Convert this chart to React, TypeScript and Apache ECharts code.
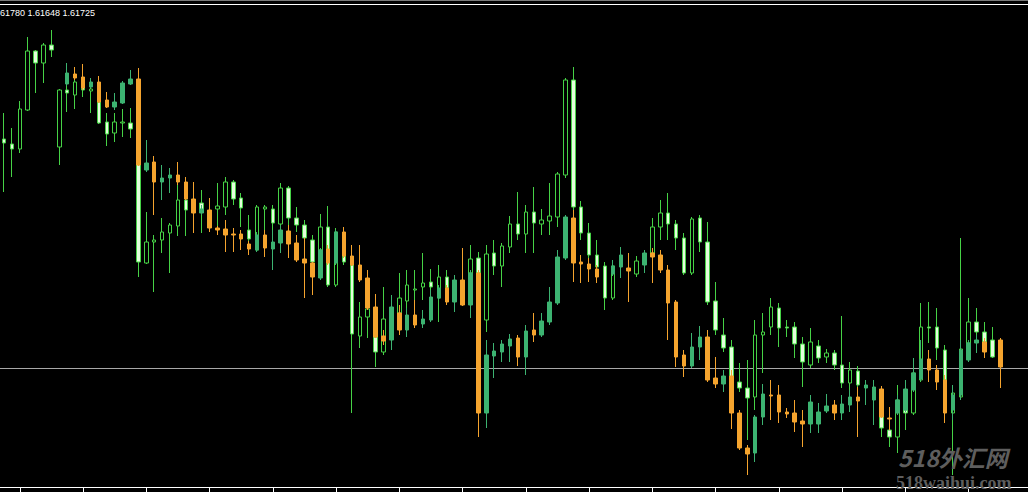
import React, { useEffect, useRef } from "react";
import * as echarts from "echarts";

// ---- Data (prices) ----
const headerText = "61780 1.61648 1.61725";
const slotCount = 130;
const categories = Array.from({ length: slotCount }, (_, i) => String(i));
const priceLine = 1.62132;

// Main series (outlined candles)
const aOpen = [
  1.62361, 1.62356, 1.62351, 1.6239, 1.62449, 1.62437, 1.62455, 1.62353, 1.6241, 1.62405,
  1.62414, 1.62409, 1.62398, 1.62378, 1.62367, 1.62377, 1.62377, 1.6237, 1.62237, 1.62258,
  1.6226, 1.62267, 1.62274, 1.623, null, 1.62297, null, 1.62291, 1.62293, 1.62318,
  1.62302, 1.6227, 1.6225, 1.62291, 1.62291, 1.62276, 1.62312, 1.62282, 1.62275, 1.6226,
  1.6225, 1.62273, 1.62215, 1.62244, 1.62235, 1.62164, 1.62183, 1.62163, 1.62148, null,
  1.62187, 1.62199, 1.6221, 1.62213, 1.62218, 1.62202, 1.62223, null, null, 1.62227,
  1.62242, 1.6218, 1.62247, 1.62234, 1.62253, 1.62276, 1.62266, 1.62288, 1.62276, 1.62279,
  1.62283, 1.62325, 1.6242, 1.62293, 1.62267, 1.62245, 1.62234, 1.62202, null, null,
  1.62226, null, 1.62247, 1.62273, 1.62287, 1.62276, 1.62262, 1.62227, 1.62282, 1.62258,
  1.62199, 1.62165, 1.62153, 1.62118, 1.62112, 1.62103, 1.62165, 1.62173, 1.62192, 1.62173,
  1.62173, 1.62156, 1.62135, 1.62154, 1.62143, 1.62147, 1.62135, 1.62117, 1.62129, null,
  null, 1.621, 1.6207, 1.62063, 1.6209, 1.62087, 1.6212, 1.62173, 1.62173, 1.6215,
  1.62087, 1.62103, 1.62157, 1.62178, 1.62168, 1.6216, null,
];
const aClose = [
  1.62357, 1.62351, 1.62391, 1.62449, 1.62437, 1.62455, 1.6245, 1.6241, 1.62407, 1.62418,
  1.6241, 1.62411, 1.62377, 1.62366, 1.62378, 1.62378, 1.62371, 1.62238, 1.62258, 1.6226,
  1.62268, 1.62275, 1.623, 1.6229, null, 1.6229, null, 1.62294, 1.62318, 1.62301,
  1.62292, 1.62261, 1.62293, 1.62293, 1.62277, 1.62312, 1.62282, 1.62275, 1.62262, 1.62238,
  1.62273, 1.62215, 1.62268, 1.62238, 1.62166, 1.62183, 1.62191, 1.62148, 1.62181, null,
  1.62202, 1.62215, 1.62211, 1.62217, 1.62213, 1.62223, 1.62212, null, null, 1.62241,
  1.62227, 1.62246, 1.62234, 1.62254, 1.62276, 1.62266, 1.62288, 1.62277, 1.6228, 1.62284,
  1.62326, 1.6242, 1.62293, 1.62267, 1.62245, 1.62233, 1.62202, 1.62234, null, null,
  1.62239, null, 1.62273, 1.62287, 1.62276, 1.62262, 1.62227, 1.62281, 1.62258, 1.62198,
  1.6217, 1.62152, 1.62123, 1.62112, 1.62102, 1.62165, 1.62168, 1.62193, 1.62172, 1.62172,
  1.62156, 1.62138, 1.62158, 1.62142, 1.62147, 1.62135, 1.62117, 1.6213, 1.62115, null,
  null, 1.62072, 1.62063, 1.621, 1.62087, 1.62127, 1.62173, 1.62172, 1.62152, 1.6212,
  1.62107, 1.62151, 1.62178, 1.62168, 1.62158, 1.62143, null,
];
const aHigh = [
  1.62387, 1.62372, 1.62399, 1.62463, 1.6245, 1.62457, 1.6247, 1.62411, 1.62415, 1.62422,
  1.62415, 1.62413, 1.62399, 1.62387, 1.62387, 1.62391, 1.62392, 1.62372, 1.62288, 1.62265,
  1.62282, 1.62277, 1.62315, 1.62301, null, 1.6231, null, 1.62317, 1.62323, 1.6232,
  1.62307, 1.62285, 1.62295, 1.62295, 1.62295, 1.62317, 1.62314, 1.62293, 1.6228, 1.62265,
  1.62286, 1.62294, 1.62272, 1.6225, 1.6225, 1.62198, 1.622, 1.6217, 1.62213, null,
  1.62227, 1.6223, 1.6223, 1.62247, 1.62231, 1.62235, 1.6223, null, null, 1.62255,
  1.62248, 1.62255, 1.6226, 1.62257, 1.62284, 1.62308, 1.62295, 1.62313, 1.62291, 1.62317,
  1.62328, 1.62422, 1.62433, 1.62299, 1.62277, 1.6226, 1.62238, 1.62238, null, null,
  1.62244, null, 1.62282, 1.623, 1.62307, 1.6228, 1.62267, 1.62283, 1.62285, 1.62278,
  1.62218, 1.62182, 1.6216, 1.62137, 1.6214, 1.6218, 1.62187, 1.62202, 1.62197, 1.6218,
  1.62178, 1.62163, 1.62172, 1.6216, 1.62151, 1.6215, 1.62184, 1.62138, 1.62134, null,
  null, 1.6211, 1.62083, 1.62115, 1.621, 1.62142, 1.62197, 1.62198, 1.62192, 1.62155,
  1.62115, 1.62262, 1.62202, 1.62192, 1.62178, 1.62173, null,
];
const aLow = [
  1.62308, 1.62323, 1.62347, 1.62389, 1.62407, 1.62417, 1.62443, 1.62335, 1.62388, 1.62391,
  1.62403, 1.62387, 1.62376, 1.62354, 1.62358, 1.62363, 1.62362, 1.62223, 1.62236, 1.62208,
  1.62247, 1.62227, 1.62264, 1.62264, null, 1.62267, null, 1.62268, 1.62285, 1.62295,
  1.62273, 1.62259, 1.62248, 1.62265, 1.6227, 1.62272, 1.62272, 1.62268, 1.62242, 1.62237,
  1.62248, 1.62213, 1.62213, 1.62235, 1.62087, 1.62152, 1.62162, 1.62133, 1.62145, null,
  1.62185, 1.62185, 1.6219, 1.622, 1.62205, 1.62178, 1.6221, null, null, 1.62225,
  1.62226, 1.62168, 1.62225, 1.62213, 1.62247, 1.6226, 1.62247, 1.62247, 1.62265, 1.62265,
  1.62273, 1.62322, 1.6229, 1.6226, 1.62242, 1.62232, 1.6219, 1.622, null, null,
  1.62223, null, 1.6224, 1.6226, 1.6226, 1.6225, 1.62225, 1.62225, 1.62248, 1.62195,
  1.62165, 1.62148, 1.6212, 1.62108, 1.6206, 1.6209, 1.62127, 1.62165, 1.62153, 1.62163,
  1.62142, 1.62113, 1.62132, 1.62137, 1.62137, 1.6213, 1.62112, 1.6211, 1.62112, null,
  null, 1.62063, 1.62053, 1.62047, 1.6207, 1.62085, 1.62118, 1.62157, 1.6214, 1.62115,
  1.62025, 1.621, 1.62155, 1.62162, 1.62156, 1.62142, null,
];

// Overlay series (filled candles)
const bOpen = [
  null, null, null, null, null, null, null, null, 1.62416, 1.62426,
  1.62423, 1.62413, 1.62418, 1.624, 1.62393, 1.62397, 1.62416, 1.62421, 1.6233, 1.62338,
  1.62318, 1.62322, 1.62325, 1.62318, 1.62301, 1.62287, 1.6229, 1.62272, 1.62271, 1.62266,
  1.62266, 1.62256, 1.6225, 1.62265, 1.62251, 1.62257, 1.62269, 1.62257, 1.62241, 1.62237,
  1.62222, 1.62251, 1.62237, 1.62268, 1.62244, 1.62235, 1.62222, 1.62193, 1.62164, 1.6216,
  1.62187, 1.6217, 1.62185, 1.62176, 1.6218, 1.62202, 1.62212, 1.62198, 1.6222, 1.62195,
  1.62227, 1.62087, 1.62144, 1.62148, 1.62154, 1.62162, 1.62143, 1.6217, 1.62165, 1.62178,
  1.62197, 1.62242, 1.62282, 1.62238, 1.62236, 1.62231, null, 1.62226, 1.62233, 1.62232,
  null, 1.62235, 1.62247, 1.62245, 1.6223, 1.62198, 1.62145, 1.62134, 1.62153, 1.62163,
  1.62122, 1.62116, 1.62124, 1.62087, 1.62052, 1.62047, 1.62083, 1.62105, 1.62105, 1.62088,
  1.62087, 1.62079, 1.62076, 1.62076, 1.62089, 1.62095, 1.62087, 1.62095, 1.62103, 1.62112,
  1.621, 1.62111, 1.62082, 1.62087, 1.6209, 1.6211, 1.62121, 1.62141, 1.6213, 1.6212,
  1.6209, 1.62105, 1.6214, 1.62157, 1.62158, null, 1.6216,
];
const bClose = [
  null, null, null, null, null, null, null, null, 1.62427, 1.62422,
  1.62412, 1.62418, 1.62398, 1.62393, 1.62398, 1.62417, 1.62421, 1.62335, 1.62337, 1.62318,
  1.62322, 1.62325, 1.62318, 1.62301, 1.62287, 1.62291, 1.62272, 1.6227, 1.62265, 1.62265,
  1.62261, 1.62251, 1.62265, 1.62252, 1.62258, 1.6227, 1.62256, 1.6224, 1.62237, 1.62223,
  1.6225, 1.62237, 1.62268, 1.62244, 1.62235, 1.6222, 1.62192, 1.62163, 1.62159, 1.62193,
  1.6217, 1.62185, 1.62175, 1.62181, 1.62203, 1.62212, 1.62198, 1.6222, 1.62195, 1.62227,
  1.62087, 1.62145, 1.62149, 1.62156, 1.62161, 1.62143, 1.62169, 1.62165, 1.62179, 1.62198,
  1.62243, 1.62283, 1.62237, 1.62236, 1.62231, 1.62223, null, 1.62234, 1.62245, 1.62229,
  null, 1.62247, 1.62243, 1.6223, 1.62197, 1.62143, 1.62134, 1.62153, 1.62163, 1.6212,
  1.62116, 1.62124, 1.62087, 1.62052, 1.62046, 1.62083, 1.62106, 1.62104, 1.62088, 1.62086,
  1.62078, 1.62076, 1.62098, 1.62088, 1.62094, 1.62087, 1.62096, 1.62103, 1.62099, 1.62115,
  1.62113, 1.62083, 1.62081, 1.621, 1.62111, 1.62127, 1.62141, 1.6213, 1.62118, 1.62087,
  1.62105, 1.6215, 1.62157, 1.6216, 1.62148, null, 1.62133,
];
const bHigh = [
  null, null, null, null, null, null, null, null, 1.62437, 1.62433,
  1.62436, 1.62422, 1.62424, 1.62408, 1.62407, 1.62419, 1.6243, 1.62432, 1.6236, 1.62344,
  1.62335, 1.62332, 1.62338, 1.62323, 1.62318, 1.62295, 1.62302, 1.62274, 1.6228, 1.62272,
  1.6227, 1.62259, 1.62268, 1.6227, 1.6227, 1.62275, 1.62275, 1.62265, 1.62262, 1.62238,
  1.62252, 1.62255, 1.6227, 1.62273, 1.62255, 1.62255, 1.6223, 1.62206, 1.6217, 1.62205,
  1.62195, 1.62192, 1.622, 1.6219, 1.6221, 1.62215, 1.62215, 1.62225, 1.62252, 1.6223,
  1.6223, 1.6216, 1.62157, 1.6216, 1.62166, 1.62165, 1.62175, 1.62187, 1.62187, 1.62213,
  1.6225, 1.62285, 1.6229, 1.62245, 1.62242, 1.62235, null, 1.6224, 1.62253, 1.62247,
  null, 1.6225, 1.62252, 1.6225, 1.62235, 1.622, 1.6215, 1.62167, 1.62174, 1.6217,
  1.62143, 1.6213, 1.6213, 1.6209, 1.62055, 1.62085, 1.62116, 1.6212, 1.62115, 1.62092,
  1.621, 1.6209, 1.62105, 1.62097, 1.62106, 1.621, 1.62105, 1.6211, 1.62113, 1.6212,
  1.6212, 1.62114, 1.62093, 1.62105, 1.6212, 1.62142, 1.6216, 1.6215, 1.62135, 1.62125,
  1.62115, 1.6216, 1.6216, 1.62165, 1.62162, null, 1.62162,
];
const bLow = [
  null, null, null, null, null, null, null, null, 1.62414, 1.6242,
  1.6241, 1.62412, 1.62397, 1.62392, 1.6239, 1.62396, 1.62415, 1.62334, 1.62328, 1.62285,
  1.623, 1.62307, 1.62315, 1.623, 1.62267, 1.62285, 1.62268, 1.62265, 1.62248, 1.62248,
  1.6225, 1.62245, 1.62248, 1.62243, 1.6223, 1.62247, 1.62242, 1.62238, 1.62202, 1.62205,
  1.6222, 1.62235, 1.62235, 1.62242, 1.62234, 1.62218, 1.6219, 1.62162, 1.62155, 1.6215,
  1.62165, 1.62163, 1.62172, 1.62172, 1.62178, 1.622, 1.62195, 1.62188, 1.62194, 1.62182,
  1.62063, 1.62072, 1.62122, 1.62138, 1.62138, 1.62134, 1.62125, 1.62158, 1.62163, 1.62175,
  1.62195, 1.6224, 1.62218, 1.62217, 1.62218, 1.62217, null, 1.62224, 1.62222, 1.62198,
  null, 1.62227, 1.62217, 1.62227, 1.6216, 1.62133, 1.62123, 1.62132, 1.6214, 1.62118,
  1.62112, 1.62108, 1.62071, 1.6205, 1.62025, 1.62038, 1.62075, 1.6208, 1.62077, 1.62082,
  1.62068, 1.62053, 1.62067, 1.62067, 1.62087, 1.6208, 1.6208, 1.62088, 1.62063, 1.62095,
  1.62075, 1.62082, 1.6207, 1.62085, 1.62088, 1.62108, 1.62119, 1.62118, 1.6211, 1.62077,
  1.6208, 1.621, 1.62138, 1.62147, 1.62142, null, 1.62112,
];

const yMin = 1.62013;
const yMax = 1.625;

function toCandles(o: (number | null)[], c: (number | null)[], l: (number | null)[], h: (number | null)[]) {
  return categories.map((_, i) => {
    const ov = o[i];
    if (ov === null || ov === undefined) return ["-", "-", "-", "-"];
    return [ov, c[i], l[i], h[i]];
  });
}

export default function App() {
  const ref = useRef<HTMLDivElement>(null);

  useEffect(() => {
    if (!ref.current) return;
    const chart = echarts.init(ref.current, undefined, { renderer: "svg" });
    const green = "#46D246";
    const baseGraphic: any[] = [
      { type: "line", silent: true, shape: { x1: 0, y1: 0.5, x2: 1028, y2: 0.5 }, style: { stroke: "#7a7a7a", lineWidth: 1 } },
      { type: "line", silent: true, shape: { x1: 0, y1: 4.5, x2: 1028, y2: 4.5 }, style: { stroke: "#ffffff", lineWidth: 1 } },
      {
        type: "text",
        silent: true,
        x: 0,
        y: 13,
        style: { text: headerText, fill: "#FFFFFF", fontSize: 9, fontFamily: "Liberation Sans", verticalAlign: "middle" },
      },
      {
        type: "text",
        silent: true,
        z: 100,
        x: 898,
        y: 457,
        style: {
          text: "518外汇网",
          fill: "#5E5E5E",
          fontSize: 23,
          fontStyle: "italic",
          fontWeight: "bold",
          fontFamily: "Noto Sans CJK SC",
          verticalAlign: "middle",
        },
      },
      {
        type: "text",
        silent: true,
        z: 100,
        x: 896,
        y: 483,
        style: {
          text: "518waihui.com",
          fill: "#5E5E5E",
          fontSize: 18,
          fontWeight: "bold",
          fontFamily: "Liberation Serif",
          verticalAlign: "middle",
        },
      },
    ];
    const option: any = {
      animation: false,
      backgroundColor: "#000000",
      grid: { left: -3.5, right: -8.5, top: 0, bottom: 5, containLabel: false },
      xAxis: {
        type: "category",
        data: categories,
        boundaryGap: true,
        axisLine: { show: true, lineStyle: { color: "#ffffff", width: 1 } },
        axisTick: {
          show: true,
          alignWithLabel: true,
          interval: (idx: number) => idx % 8 === 2,
          length: 5,
          lineStyle: { color: "#ffffff", width: 1 },
        },
        axisLabel: { show: false },
        splitLine: { show: false },
      },
      yAxis: {
        type: "value",
        min: yMin,
        max: yMax,
        show: false,
        splitLine: { show: false },
      },
      series: [
        {
          type: "candlestick",
          name: "main",
          z: 2,
          barWidth: 4,
          data: toCandles(aOpen, aClose, aLow, aHigh),
          itemStyle: {
            color: "#000000",
            color0: "#E4FFDC",
            borderColor: green,
            borderColor0: green,
            borderColorDoji: green,
            borderWidth: 1,
          },
        },
        {
          type: "candlestick",
          name: "overlay",
          z: 3,
          barWidth: 4,
          data: toCandles(bOpen, bClose, bLow, bHigh),
          itemStyle: {
            color: "#3CB371",
            color0: "#F5A42E",
            borderColor: "#3CB371",
            borderColor0: "#F5A42E",
            borderColorDoji: "#F5A42E",
            borderWidth: 1,
          },
        },
      ],
      graphic: baseGraphic,
    };
    chart.setOption(option);
    // price line positioned through the library's y scale
    const py = chart.convertToPixel({ yAxisIndex: 0 }, priceLine) as number;
    const yLine = Math.round(py) + 0.5;
    chart.setOption({
      graphic: [
        ...baseGraphic,
        {
          type: "line",
          silent: true,
          z: 1,
          shape: { x1: 0, y1: yLine, x2: 1028, y2: yLine },
          style: { stroke: "#A8A8A8", lineWidth: 1 },
        },
      ],
    });
    return () => chart.dispose();
  }, []);

  return (
    <div
      ref={ref}
      style={{ position: "fixed", left: 0, top: 0, width: 1028, height: 492, background: "#000000" }}
    />
  );
}
